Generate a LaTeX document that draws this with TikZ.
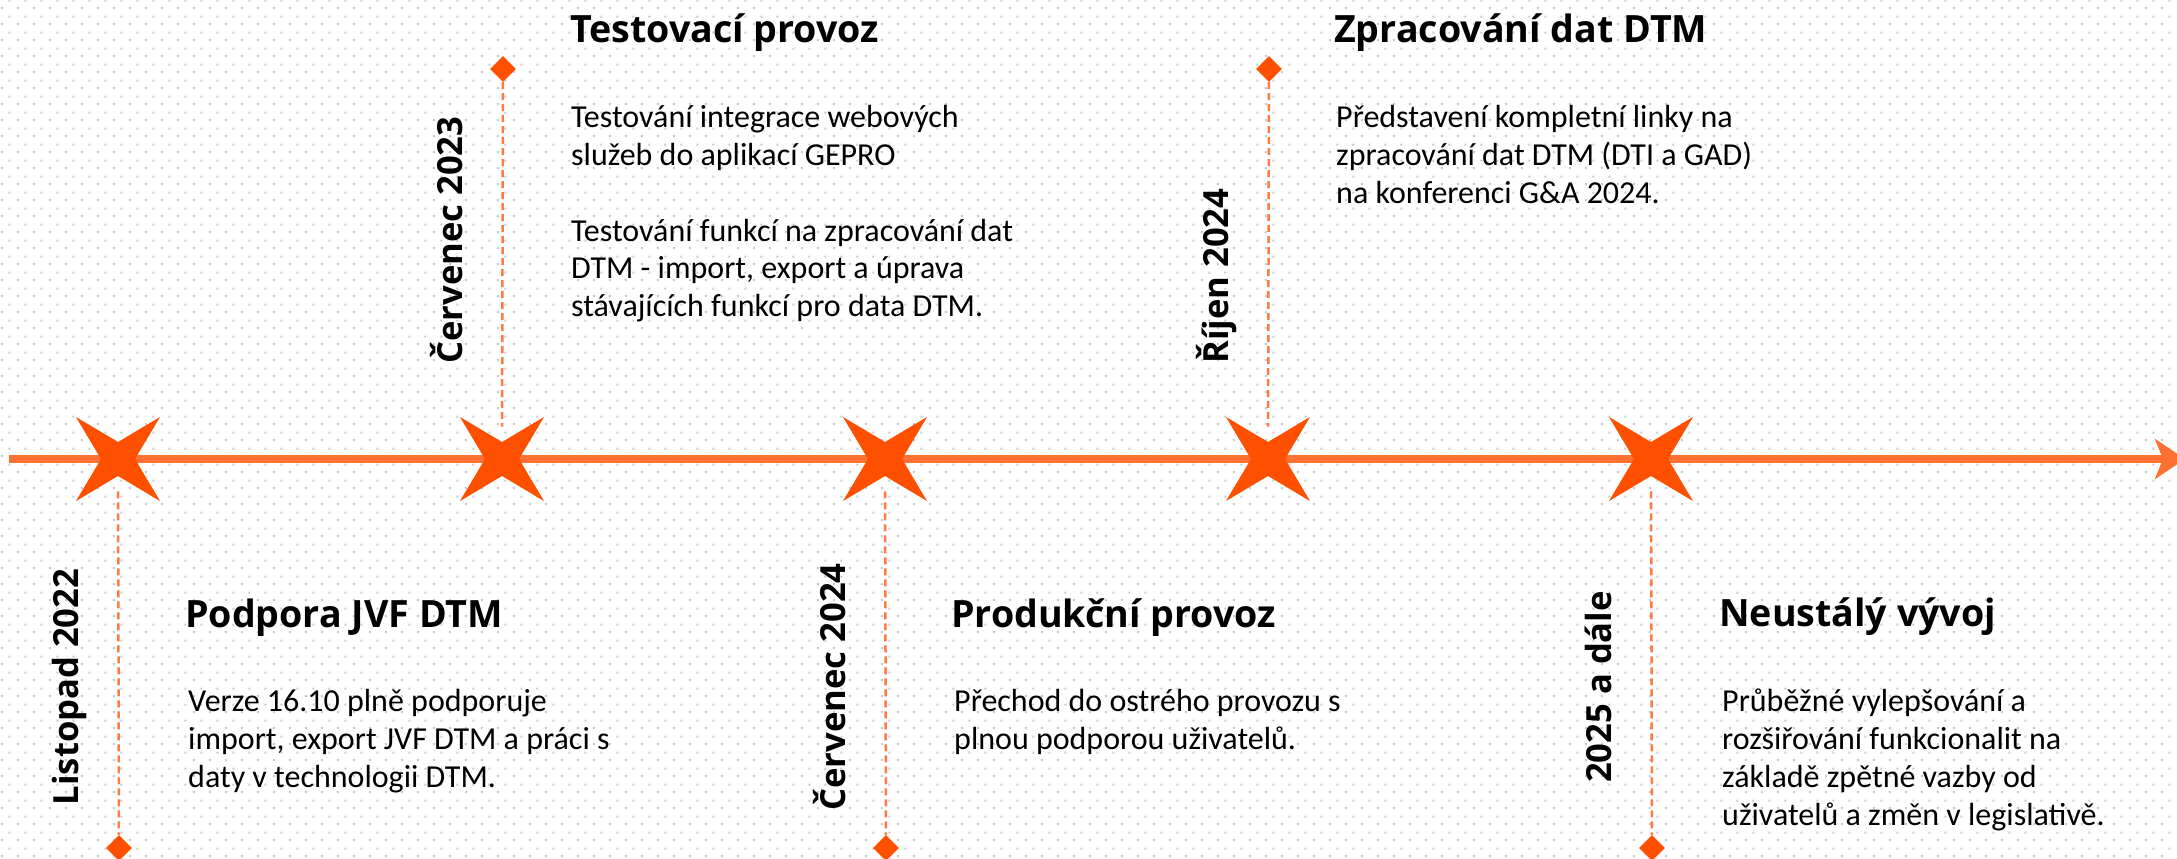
\documentclass[tikz,border=0pt]{standalone}
\usepackage{fontspec}
\setmainfont{Carlito}
\newfontfamily\headfont{Open Sans}
\usetikzlibrary{shapes.geometric,arrows.meta,patterns.meta}
\definecolor{starc}{HTML}{FF5000}
\definecolor{axisc}{HTML}{FF7033}
\definecolor{dashc}{HTML}{FF7A45}
\definecolor{dotc}{HTML}{CACACA}
\tikzdeclarepattern{name=dotgrid, type=uncolored,
  bounding box={(0pt,0pt) and (16pt,16pt)}, tile size={(16pt,16pt)},
  code={\fill (2pt,2pt) rectangle (4pt,4pt); \fill (10pt,10pt) rectangle (12pt,12pt);}}
\begin{document}
\begin{tikzpicture}[x=1pt,y=-1pt,
  starmark/.style={star, star points=4, star point ratio=3.5, minimum size=119pt,
    inner sep=0pt, shape border rotate=45, fill=starc, draw=none},
  diamondmark/.style={diamond, minimum size=26pt, inner sep=0pt, fill=starc},
  dashline/.style={draw=dashc, line width=2.5pt, dash pattern=on 7pt off 4pt},
  axisline/.style={draw=axisc, line width=7.5pt, -{Stealth[length=30pt,width=40pt,inset=8pt]}},
  titletext/.style={font=\headfont\bfseries\fontsize{37.6}{44}\selectfont, anchor=base west, inner sep=0pt},
  datelabel/.style={font=\headfont\bfseries\fontsize{34.6}{40}\selectfont, rotate=90, inner sep=0pt},
  bodytext/.style={font=\fontsize{32}{38}\selectfont, anchor=base west, inner sep=0pt}]
\useasboundingbox (0,0) rectangle (2177,859);
\fill[white] (0,0) rectangle (2177,859);
\fill[pattern=dotgrid, pattern color=dotc] (0,0) rectangle (2177,859);

% axis
\coordinate (axisL) at (9,459);
\coordinate (axisR) at (2185,459);
\draw[axisline] (axisL) -- (axisR);

% stars
\node[starmark] (s1) at (118,459) {};
\node[starmark] (s2) at (502,459) {};
\node[starmark] (s3) at (885,459) {};
\node[starmark] (s4) at (1268,459) {};
\node[starmark] (s5) at (1651,459) {};

% diamonds
\node[diamondmark] (d1) at (119,848) {};
\node[diamondmark] (d2) at (503,69) {};
\node[diamondmark] (d3) at (886,848) {};
\node[diamondmark] (d4) at (1269,69) {};
\node[diamondmark] (d5) at (1652,848) {};

% dashed connectors
\draw[dashline, shorten <=15pt] (s1) -- (d1);
\draw[dashline, shorten >=15pt] (d2) -- (s2);
\draw[dashline, shorten <=15pt] (s3) -- (d3);
\draw[dashline, shorten >=15pt] (d4) -- (s4);
\draw[dashline, shorten <=15pt] (s5) -- (d5);

% dates
\node[datelabel, anchor=base] (t1) at (78,687) {Listopad 2022};
\node[datelabel, anchor=base west] (t2) at (462,364) {Červenec 2023};
\node[datelabel, anchor=base] (t3) at (845,687) {Červenec 2024};
\node[datelabel, anchor=base west] (t4) at (1228,364) {Říjen 2024};
\node[datelabel, anchor=base] (t5) at (1611,687) {2025 a dále};

% titles
\node[titletext] (h1) at (185,627) {Podpora JVF DTM};
\node[titletext] (h2) at (570,43) {Testovací provoz};
\node[titletext] (h3) at (951,627) {Produkční provoz};
\node[titletext] (h4) at (1334,43) {Zpracování dat DTM};
\node[titletext] (h5) at (1719,626) {Neustálý vývoj};

% bodies
\node[bodytext] (b1) at (188,711) {\begin{tabular}[t]{@{}l@{}}Verze 16.10 plně podporuje\\import, export JVF DTM a práci s\\daty v technologii DTM.\end{tabular}};
\node[bodytext] (b2) at (571,127) {\begin{tabular}[t]{@{}l@{}}Testování integrace webových\\služeb do aplikací GEPRO\\ \\Testování funkcí na zpracování dat\\DTM - import, export a úprava\\stávajících funkcí pro data DTM.\end{tabular}};
\node[bodytext] (b3) at (954,711) {\begin{tabular}[t]{@{}l@{}}Přechod do ostrého provozu s\\plnou podporou uživatelů.\end{tabular}};
\node[bodytext] (b4) at (1336,127) {\begin{tabular}[t]{@{}l@{}}Představení kompletní linky na\\zpracování dat DTM (DTI a GAD)\\na konferenci G\&A 2024.\end{tabular}};
\node[bodytext] (b5) at (1722,711) {\begin{tabular}[t]{@{}l@{}}Průběžné vylepšování a\\rozšiřování funkcionalit na\\základě zpětné vazby od\\uživatelů a změn v legislativě.\end{tabular}};
\end{tikzpicture}
\end{document}
